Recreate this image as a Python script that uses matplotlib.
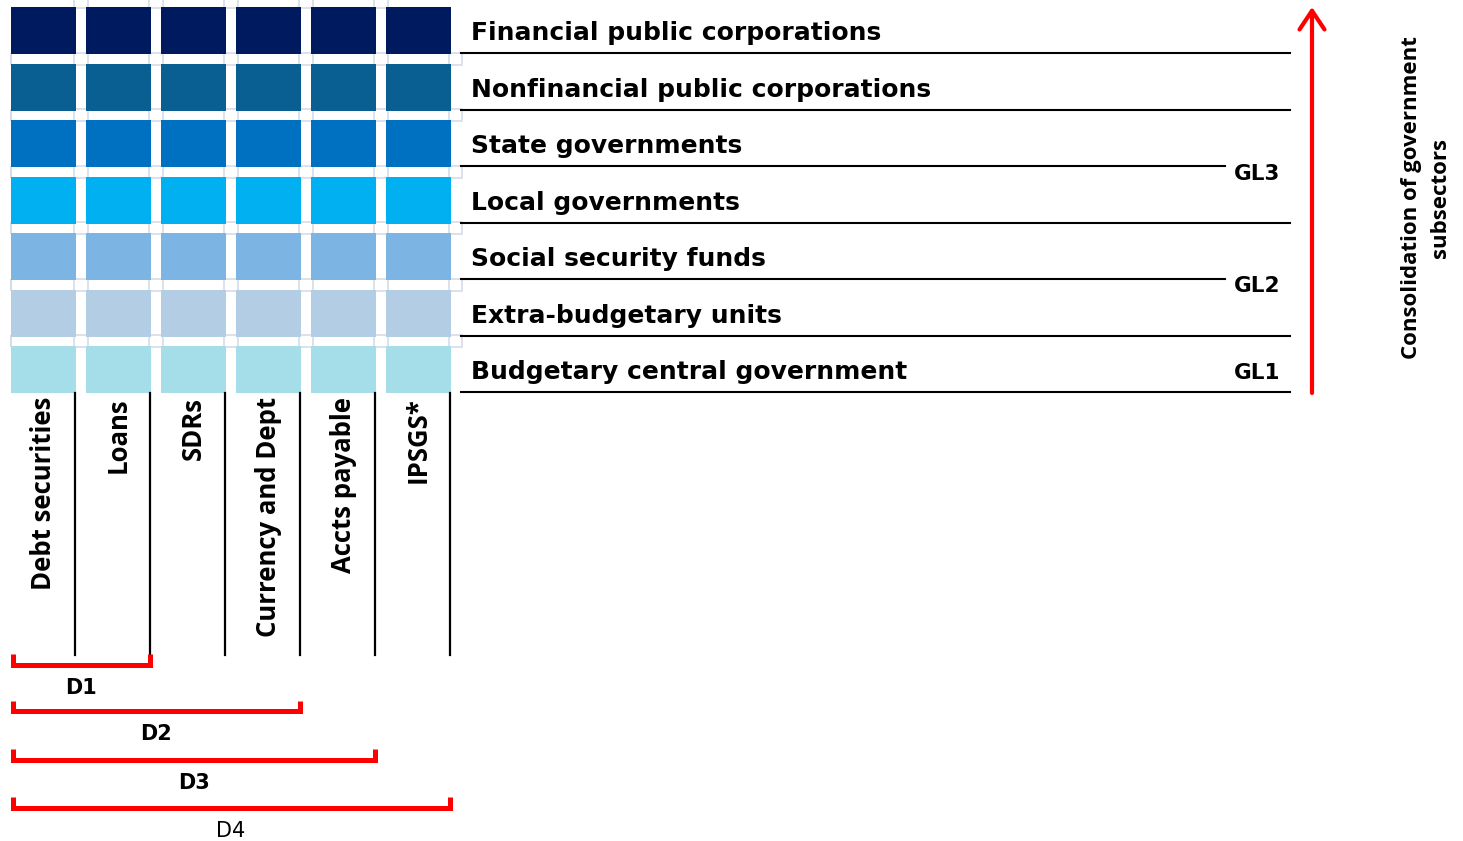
import matplotlib
matplotlib.use("Agg")
import matplotlib.pyplot as plt
from matplotlib.patches import Rectangle

# rows from top to bottom
subsectors = ["Financial public corporations", "Nonfinancial public corporations",
              "State governments", "Local governments", "Social security funds",
              "Extra-budgetary units", "Budgetary central government"]
row_colors = ["#001A60", "#0A5F92", "#0070C0", "#00B0F0", "#7CB4E4", "#B3CDE5", "#A5DDE9"]
instruments = ["Debt securities", "Loans", "SDRs", "Currency and Dept", "Accts payable", "IPSGS*"]
# GL level labels: (label, row index, offset from that row's line)
gl_labels = [("GL3", 2, 7), ("GL2", 4, 6), ("GL1", 6, -20)]
short_lines = [2, 4]
# debt measures: (label, number of instruments covered, bold)
debt_levels = [("D1", 2, True), ("D2", 4, True), ("D3", 5, True), ("D4", 6, False)]

fig = plt.figure(figsize=(14.63, 8.41), dpi=100)
ax = fig.add_axes([0, 0, 1, 1])
ax.set_xlim(0, 1463)
ax.set_ylim(841, 0)
ax.axis("off")

x0, col_pitch, col_w = 11, 75, 65
y0, row_pitch, row_h = 7, 56.5, 47
ncol, nrow = len(instruments), len(subsectors)
grey = "#D6DCE8"

# faint table borders showing in the gaps
for j in range(nrow):
    yc = y0 + row_pitch * j - (row_pitch - row_h) / 2
    for i in range(1, ncol):
        xc = x0 + col_pitch * i - (col_pitch - col_w) / 2
        ax.add_patch(Rectangle((xc - 7, yc - 6), 14, 12, fill=False, ec=grey, lw=1.2, zorder=1))
    if j > 0:
        ax.plot([10.5, 10.5], [yc - 5, yc + 5], color=grey, lw=1.5, zorder=1)
        ax.add_patch(Rectangle((449, yc - 6), 13, 12, fill=False, ec=grey, lw=1.2, zorder=1))

# cells
for j, color in enumerate(row_colors):
    for i in range(ncol):
        ax.add_patch(Rectangle((x0 + col_pitch * i, y0 + row_pitch * j), col_w, row_h,
                               fc=color, ec="none", zorder=2))

# row labels and separator lines
for j, name in enumerate(subsectors):
    ly = y0 + row_pitch * j + row_h - 1
    x_end = 1225 if j in short_lines else 1290
    ax.plot([461, x_end], [ly, ly], color="black", lw=1.5, zorder=3)
    ax.text(471, ly - 13, name, fontsize=18, fontweight="bold", family="DejaVu Sans",
            ha="left", va="baseline", zorder=3)

for label, r, off in gl_labels:
    ly = y0 + row_pitch * r + row_h - 1
    ax.text(1257, ly + off + 1, label, fontsize=15.5, fontweight="bold", family="DejaVu Sans",
            ha="center", va="center", zorder=3)

# red arrow
ax.annotate("", xy=(1312, 7), xytext=(1312, 393),
            arrowprops=dict(arrowstyle="->, head_length=0.45, head_width=0.3",
                            color="#FF0000", lw=3, mutation_scale=30,
                            shrinkA=0, shrinkB=0))
ax.text(1426, 198, "Consolidation of government\nsubsectors", rotation=90,
        fontsize=16, fontweight="bold", family="Open Sans", ha="center", va="center",
        multialignment="center", linespacing=1.5)

# column labels and separators
vlines = []
for i, name in enumerate(instruments):
    cx = x0 + col_pitch * i + col_w / 2
    ax.text(cx, 397, name, rotation=90, fontsize=18.5, fontweight="bold", family="Open Sans",
            ha="center", va="top", zorder=3)
    vx = x0 + col_pitch * i + col_w - 1.5
    vlines.append(vx)
    ax.plot([vx, vx], [393, 655], color="black", lw=1.6, zorder=3)

# debt brackets
bar_y = [665, 711, 760, 808]
tick_top = [654, 701, 749, 797]
for (label, n, bold), by, tt in zip(debt_levels, bar_y, tick_top):
    xr = vlines[n - 1]
    ax.plot([12.5, 12.5, xr, xr], [tt, by, by, tt], color="#FF0000", lw=3.6,
            solid_joinstyle="miter", solid_capstyle="butt", zorder=3)
    ax.text((12.5 + xr) / 2, by + 23, label, fontsize=15,
            fontweight="bold" if bold else "normal", family="DejaVu Sans",
            ha="center", va="center", zorder=3)

fig.savefig("out.png", dpi=100)
